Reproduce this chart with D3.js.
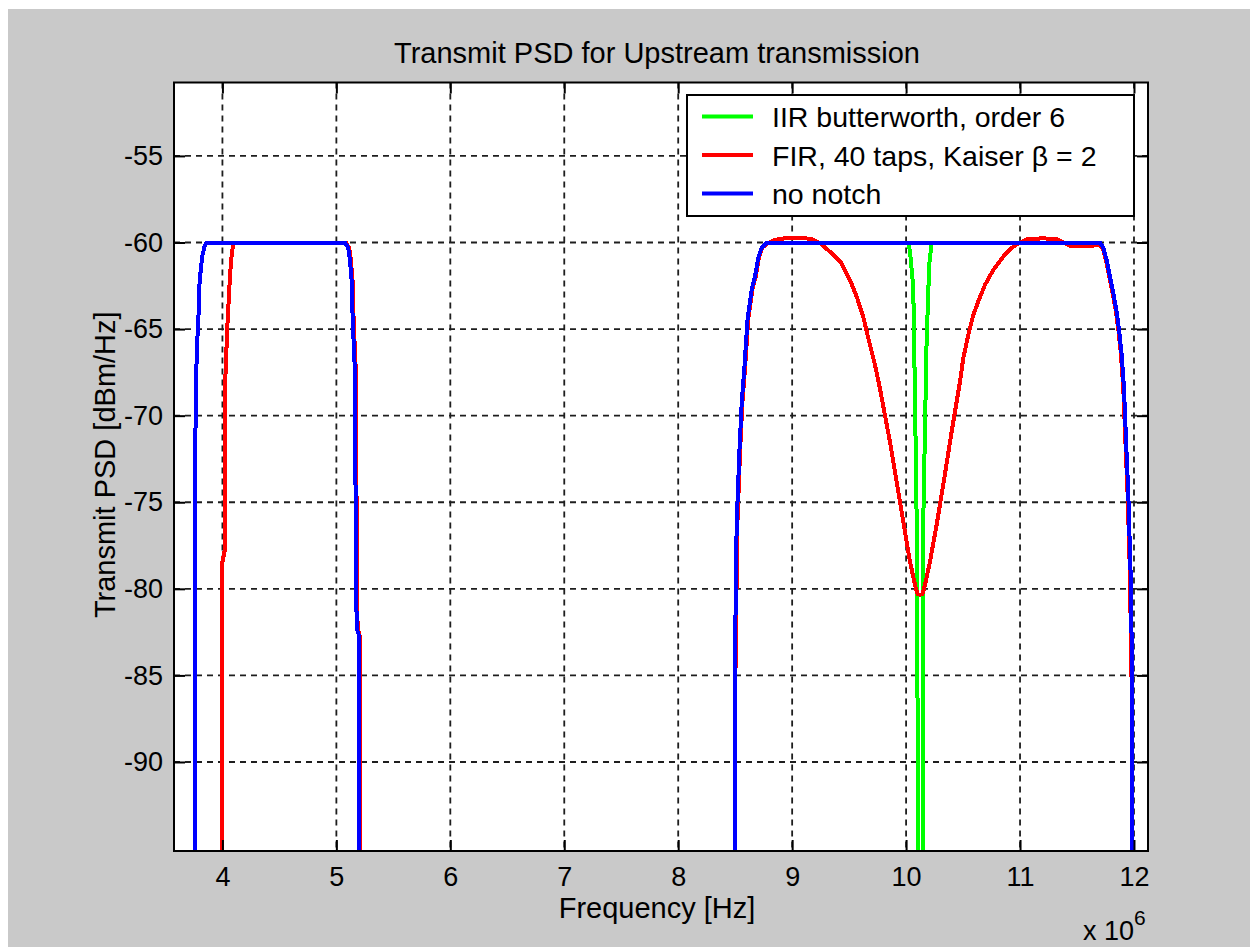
<!DOCTYPE html>
<html>
<head>
<meta charset="utf-8">
<script src="https://cdn.jsdelivr.net/npm/d3@7"></script>
<style>
    body { margin: 0; background: #fff; }
    text { font-family: "Liberation Sans", Arial, sans-serif; fill: #000; }
</style>
</head>
<body>
<svg id="psd"></svg>
<script>
// frequency in MHz (axis carries the "x 10^6"), PSD in dBm/Hz
let xTicks = [4, 5, 6, 7, 8, 9, 10, 11, 12];
let yTicks = [-90, -85, -80, -75, -70, -65, -60, -55];

let seriesNames = ["IIR butterworth, order 6", "FIR, 40 taps, Kaiser \u03b2 = 2", "no notch"];
let seriesColors = ["#00ff00", "#ff0000", "#0000ff"];

// -120 / -140 are below the axis and get clipped
let iirPsd = [
    [3.758, -120], [3.759, -72.8], [3.774, -66.4], [3.790, -64.2], [3.800, -62.2], [3.823, -60.8], [3.846, -60.15], [3.861, -60],
    [5.075, -60], [5.104, -60.3], [5.119, -61.0], [5.134, -62.2], [5.143, -64.4], [5.163, -67.5], [5.168, -74], [5.178, -82.3], [5.199, -82.7], [5.200, -120],
    [8.494, -120], [8.495, -85.6], [8.513, -76.3], [8.536, -72.2], [8.557, -69.3], [8.580, -67.3], [8.595, -65.8], [8.609, -64.4], [8.645, -62.7], [8.673, -62.0], [8.702, -60.9], [8.732, -60.3], [8.776, -60],
    [10.019, -60], [10.034, -60.5], [10.063, -62.6], [10.078, -68.9], [10.098, -78.5], [10.103, -96], [10.125, -140], [10.148, -96], [10.151, -76], [10.180, -65.7], [10.203, -61.3], [10.224, -60],
    [11.700, -60], [11.730, -60.3], [11.760, -61.0], [11.790, -62.0], [11.818, -62.9], [11.848, -64.0], [11.870, -65.1], [11.892, -66.5], [11.912, -68.4], [11.927, -70.9], [11.950, -74.5], [11.970, -79.0], [11.985, -85.3], [11.990, -120]
];

let firPsd = [
    [3.998, -120], [3.998, -78.5], [4.020, -77.8], [4.022, -68.5], [4.042, -65.0], [4.060, -62.7], [4.075, -61.1], [4.095, -60],
    [5.083, -60], [5.112, -60.3], [5.127, -61.0], [5.142, -62.2], [5.151, -64.4], [5.171, -67.5], [5.176, -74], [5.186, -82.3], [5.205, -82.7], [5.206, -120],
    [8.500, -120], [8.501, -85.6], [8.519, -76.3], [8.542, -72.2], [8.563, -69.3], [8.586, -67.3], [8.601, -65.8], [8.615, -64.4], [8.651, -62.7], [8.679, -62.0], [8.708, -60.9], [8.738, -60.3], [8.782, -60.05],
    [8.850, -59.85], [8.950, -59.74], [9.070, -59.72], [9.170, -59.8], [9.244, -60.04], [9.332, -60.53], [9.434, -61.2], [9.507, -62.16],
    [9.566, -63.12], [9.624, -64.28], [9.668, -65.53], [9.727, -67.07], [9.770, -68.41], [9.814, -69.95], [9.858, -71.5], [9.902, -73.23],
    [9.946, -74.96], [9.990, -76.69], [10.034, -78.42], [10.078, -79.77], [10.100, -80.3], [10.122, -80.35], [10.144, -80.3], [10.166, -79.77],
    [10.210, -78.42], [10.268, -76.3], [10.326, -74.0], [10.400, -70.92], [10.473, -68.03], [10.502, -66.68], [10.546, -65.33], [10.590, -64.18],
    [10.633, -63.41], [10.692, -62.45], [10.765, -61.58], [10.853, -60.81], [10.940, -60.24], [11.014, -59.95], [11.070, -59.8], [11.200, -59.76],
    [11.320, -59.8], [11.380, -60.0], [11.440, -60.18], [11.600, -60.2], [11.694, -60.15],
    [11.724, -60.3], [11.754, -61.0], [11.784, -62.0], [11.812, -62.9], [11.842, -64.0], [11.864, -65.1], [11.886, -66.5], [11.906, -68.4], [11.921, -70.9], [11.944, -74.5], [11.964, -79.0], [11.979, -85.3], [11.984, -120]
];

let noNotchPsd = [
    [3.758, -120], [3.759, -72.8], [3.774, -66.4], [3.790, -64.2], [3.800, -62.2], [3.823, -60.8], [3.846, -60.15], [3.861, -60],
    [5.075, -60], [5.104, -60.3], [5.119, -61.0], [5.134, -62.2], [5.143, -64.4], [5.163, -67.5], [5.168, -74], [5.178, -82.3], [5.199, -82.7], [5.200, -120],
    [8.494, -120], [8.495, -85.6], [8.513, -76.3], [8.536, -72.2], [8.557, -69.3], [8.580, -67.3], [8.595, -65.8], [8.609, -64.4], [8.645, -62.7], [8.673, -62.0], [8.702, -60.9], [8.732, -60.3], [8.776, -60],
    [11.700, -60], [11.730, -60.3], [11.760, -61.0], [11.790, -62.0], [11.818, -62.9], [11.848, -64.0], [11.870, -65.1], [11.892, -66.5], [11.912, -68.4], [11.927, -70.9], [11.950, -74.5], [11.970, -79.0], [11.985, -85.3], [11.990, -120]
];

let allSeries = [iirPsd, firPsd, noNotchPsd];

function drawPsd(width, height) {
    let svg = d3.select("#psd")
                .attr("width", width)
                .attr("height", height);
    let box = { left: 174, right: 1148, top: 82.5, bottom: 851 };

    // grey figure background
    svg.append("rect")
        .attr("x", 8)
        .attr("y", 9)
        .attr("width", width - 8)
        .attr("height", height - 9)
        .attr("fill", "#c9c9c9");

    svg.append("rect")
        .attr("x", box.left)
        .attr("y", box.top)
        .attr("width", box.right - box.left)
        .attr("height", box.bottom - box.top)
        .attr("fill", "#fff");

    let xScale = d3.scaleLinear()
                    .domain([3.575, 12.123])
                    .range([box.left, box.right]);
    let yScale = d3.scaleLinear()
                    .domain([-95.14, -50.76])
                    .range([box.bottom, box.top]);

    // dotted grid
    let grid = svg.append("g")
                  .attr("stroke", "#1e1e1e")
                  .attr("stroke-width", 1.8)
                  .attr("stroke-dasharray", "6,5");
    grid.selectAll(".vgrid")
        .data(xTicks)
        .enter()
        .append("line")
          .attr("x1", d => xScale(d))
          .attr("x2", d => xScale(d))
          .attr("y1", box.top)
          .attr("y2", box.bottom);
    grid.selectAll(".hgrid")
        .data(yTicks)
        .enter()
        .append("line")
          .attr("x1", box.left)
          .attr("x2", box.right)
          .attr("y1", d => yScale(d))
          .attr("y2", d => yScale(d));

    svg.append("clipPath")
        .attr("id", "plot-clip")
      .append("rect")
        .attr("x", box.left)
        .attr("y", box.top)
        .attr("width", box.right - box.left)
        .attr("height", box.bottom - box.top);

    let line = d3.line()
                 .x(d => xScale(d[0]))
                 .y(d => yScale(d[1]));

    svg.append("g")
        .attr("clip-path", "url(#plot-clip)")
      .selectAll("path")
      .data(allSeries)
      .enter()
      .append("path")
        .attr("d", line)
        .attr("fill", "none")
        .attr("stroke", (d, i) => seriesColors[i])
        .attr("stroke-width", 4)
        .attr("stroke-linejoin", "miter")
        .attr("shape-rendering", "crispEdges");

    // axes: ticks point inwards on all four sides
    let fmt = d => String(d);
    let bottomAxis = svg.append("g")
        .attr("transform", "translate(0," + box.bottom + ")")
        .call(d3.axisBottom(xScale).tickValues(xTicks).tickSize(-11).tickPadding(16).tickFormat(fmt));
    let topAxis = svg.append("g")
        .attr("transform", "translate(0," + box.top + ")")
        .call(d3.axisTop(xScale).tickValues(xTicks).tickSize(-11).tickFormat(""));
    let leftAxis = svg.append("g")
        .attr("transform", "translate(" + box.left + ",0)")
        .call(d3.axisLeft(yScale).tickValues(yTicks).tickSize(-11).tickPadding(11).tickFormat(fmt));
    let rightAxis = svg.append("g")
        .attr("transform", "translate(" + box.right + ",0)")
        .call(d3.axisRight(yScale).tickValues(yTicks).tickSize(-11).tickFormat(""));

    [bottomAxis, topAxis, leftAxis, rightAxis].forEach(a => {
        a.select(".domain").remove();
        a.selectAll(".tick line").attr("stroke", "#000").attr("stroke-width", 2);
        a.selectAll("text").style("font-size", "27px");
    });

    svg.append("rect")
        .attr("x", box.left)
        .attr("y", box.top)
        .attr("width", box.right - box.left)
        .attr("height", box.bottom - box.top)
        .attr("fill", "none")
        .attr("stroke", "#000")
        .attr("stroke-width", 2);

    // labels
    svg.append("text")
        .attr("x", 657)
        .attr("y", 63)
        .style("text-anchor", "middle")
        .style("font-size", "29px")
        .text("Transmit PSD for Upstream transmission");

    svg.append("text")
        .attr("x", 657)
        .attr("y", 918)
        .style("text-anchor", "middle")
        .style("font-size", "29px")
        .text("Frequency [Hz]");

    svg.append("text")
        .attr("transform", "translate(115," + ((box.top + box.bottom) / 2 - 2) + ") rotate(-90)")
        .style("text-anchor", "middle")
        .style("font-size", "29px")
        .text("Transmit PSD [dBm/Hz]");

    let exp = svg.append("text")
        .attr("x", 1083)
        .attr("y", 940)
        .style("font-size", "27px");
    exp.append("tspan").text("x 10");
    exp.append("tspan")
        .attr("dy", -15)
        .style("font-size", "21px")
        .text("6");

    // legend
    let legend = svg.append("g");
    legend.append("rect")
        .attr("x", 687)
        .attr("y", 95)
        .attr("width", 447)
        .attr("height", 121)
        .attr("fill", "#fff")
        .attr("stroke", "#000")
        .attr("stroke-width", 2);

    let rows = legend.selectAll(".entry")
        .data(seriesNames)
        .enter()
        .append("g")
          .attr("transform", (d, i) => "translate(0," + (127 + i * 38.5) + ")");
    rows.append("line")
        .attr("x1", 702)
        .attr("x2", 753)
        .attr("y1", -10.5)
        .attr("y2", -10.5)
        .attr("stroke", (d, i) => seriesColors[i])
        .attr("stroke-width", 4);
    rows.append("text")
        .attr("x", 772)
        .style("font-size", "28.5px")
        .text(d => d);
}

drawPsd(1250, 947);
</script>
</body>
</html>
